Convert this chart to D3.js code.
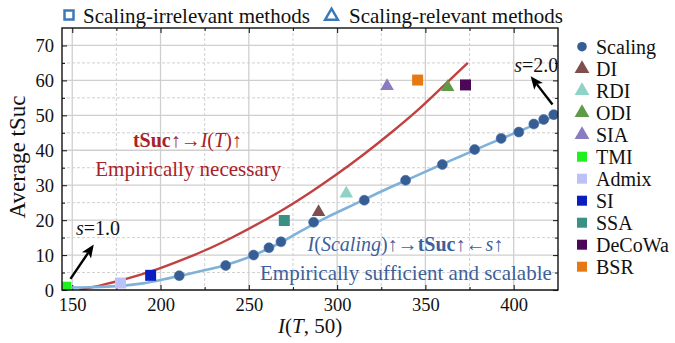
<!DOCTYPE html>
<html>
<head>
<meta charset="utf-8">
<script src="https://cdn.jsdelivr.net/npm/d3@7"></script>
<style>
  body { margin: 0; background: #fff; }
  svg text { font-family: "Liberation Serif", "DejaVu Serif", serif !important; }
</style>
</head>
<body>
<div id="chart"></div>
<script>
// scaling runs
var scalingX = [210.6, 236.9, 252.7, 261.4, 268.2, 286.7, 315.4, 338.8, 359.6, 377.9, 392.9, 402.9, 411.4, 417.0, 422.7];
var scalingY = [4.1, 7.0, 10.0, 12.1, 13.8, 19.4, 25.7, 31.4, 35.9, 40.2, 43.4, 45.2, 47.5, 48.8, 50.2];

// other attack methods
var methodNames = ["DI", "RDI", "ODI", "SIA", "TMI", "Admix", "SI", "SSA", "DeCoWa", "BSR"];
var methodX = [289.5, 305.2, 362.6, 328.3, 146.3, 177.3, 194.4, 270.1, 372.7, 345.6];
var methodY = [22.3, 27.6, 58.1, 58.4, 0.8, 2.0, 4.2, 19.9, 58.7, 60.1];
var relevantMethods = ["DI", "RDI", "ODI", "SIA"];

// fitted curve through the scaling points
var fitX = [145, 160, 175, 190, 205, 220, 235, 250, 265, 280, 295, 310, 325, 340, 355, 370, 385, 400, 415, 426];
var fitY = [0.7, 0.8, 1.1, 1.9, 3.4, 5.1, 6.9, 9.4, 12.8, 17.0, 21.0, 24.6, 28.2, 31.6, 35.0, 38.3, 41.6, 44.8, 48.0, 50.5];

// "empirically necessary" bound
var boundX = [154, 165, 180, 195, 210, 225, 240, 255, 270, 285, 300, 315, 330, 345, 360, 374];
var boundY = [0, 1.2, 3.1, 5.4, 8.2, 11.3, 14.9, 18.9, 23.2, 28.0, 33.2, 38.8, 44.8, 51.2, 58.3, 65.0];

var xTicks = [150, 200, 250, 300, 350, 400];
var xMinor = [175, 225, 275, 325, 375];
var yTicks = [0, 10, 20, 30, 40, 50, 60, 70];
var yMinor = [5, 15, 25, 35, 45, 55, 65];

var colors = {
  Scaling: "#365d94", DI: "#7f4e4e", RDI: "#8fd3c6", ODI: "#5f9a49", SIA: "#8b7cc2",
  TMI: "#1ff01f", Admix: "#bdc1f9", SI: "#0a1ebf", SSA: "#3a9082", DeCoWa: "#4b0857", BSR: "#e57a12"
};

var width = 675, height = 343;
var margin = {top: 28, right: 117, bottom: 53, left: 62};
var w = width - margin.left - margin.right,
    h = height - margin.top - margin.bottom;

var svg = d3.select("#chart").append("svg")
  .attr("width", width)
  .attr("height", height);

var x = d3.scaleLinear().domain([144.2, 425.1]).range([0, w]);
var y = d3.scaleLinear().domain([0, 75]).range([h, 0]);

svg.append("defs").append("clipPath").attr("id", "clip")
  .append("rect").attr("width", w).attr("height", h);

var g = svg.append("g").attr("transform", "translate(" + margin.left + "," + margin.top + ")");

// grid
var grid = g.append("g");
grid.selectAll(".xmin").data(xMinor).enter().append("line")
  .attr("x1", x).attr("x2", x).attr("y1", 0).attr("y2", h)
  .attr("stroke", "#c4c4c4").attr("stroke-width", 0.8).attr("stroke-dasharray", "3,2");
grid.selectAll(".ymin").data(yMinor).enter().append("line")
  .attr("y1", y).attr("y2", y).attr("x1", 0).attr("x2", w)
  .attr("stroke", "#c4c4c4").attr("stroke-width", 0.8).attr("stroke-dasharray", "3,2");
grid.selectAll(".xmaj").data(xTicks).enter().append("line")
  .attr("x1", x).attr("x2", x).attr("y1", 0).attr("y2", h)
  .attr("stroke", "#cfcfcf").attr("stroke-width", 1.3);
grid.selectAll(".ymaj").data(yTicks).enter().append("line")
  .attr("y1", y).attr("y2", y).attr("x1", 0).attr("x2", w)
  .attr("stroke", "#cfcfcf").attr("stroke-width", 1.3);

// ticks inward on all sides
function tickAxis(axis, minor) {
  return axis.tickSizeInner(minor ? -3 : -5).tickSizeOuter(0);
}
var axes = g.append("g");
var bottom = axes.append("g").attr("transform", "translate(0," + h + ")")
  .call(tickAxis(d3.axisBottom(x).tickValues(xTicks).tickFormat(d3.format("d"))));
axes.append("g").attr("transform", "translate(0," + h + ")")
  .call(tickAxis(d3.axisBottom(x).tickValues(xMinor).tickFormat(""), true));
axes.append("g").call(tickAxis(d3.axisTop(x).tickValues(xTicks).tickFormat("")));
axes.append("g").call(tickAxis(d3.axisTop(x).tickValues(xMinor).tickFormat(""), true));
var left = axes.append("g")
  .call(tickAxis(d3.axisLeft(y).tickValues(yTicks).tickFormat(d3.format("d"))));
axes.append("g").call(tickAxis(d3.axisLeft(y).tickValues(yMinor).tickFormat(""), true));
axes.append("g").attr("transform", "translate(" + w + ",0)")
  .call(tickAxis(d3.axisRight(y).tickValues(yTicks).tickFormat("")));
axes.append("g").attr("transform", "translate(" + w + ",0)")
  .call(tickAxis(d3.axisRight(y).tickValues(yMinor).tickFormat(""), true));
axes.selectAll(".domain").remove();
axes.selectAll(".tick line").attr("stroke", "#222").attr("stroke-width", 1.1);
bottom.selectAll("text").attr("font-size", 18.5).attr("fill", "#111").attr("dy", null).attr("y", 21);
left.selectAll("text").attr("font-size", 18.5).attr("fill", "#111").attr("x", -8).attr("dy", "0.34em");

// curves
var plot = g.append("g").attr("clip-path", "url(#clip)");
var line = d3.line().curve(d3.curveCatmullRom.alpha(0.5));
plot.append("path")
  .attr("d", line(boundX.map(function(d, i){ return [x(d), y(boundY[i])]; })))
  .attr("fill", "none").attr("stroke", "#c0413f").attr("stroke-width", 2.4);
plot.append("path")
  .attr("d", line(fitX.map(function(d, i){ return [x(d), y(fitY[i])]; })))
  .attr("fill", "none").attr("stroke", "#7fb1d9").attr("stroke-width", 2.6);

// method markers
var square = d3.symbol().type(d3.symbolSquare).size(121);
var tri = d3.symbol().type(d3.symbolTriangle).size(80);
plot.selectAll(".method").data(methodNames).enter().append("path")
  .attr("transform", function(d, i){ return "translate(" + x(methodX[i]) + "," + y(methodY[i]) + ")"; })
  .attr("d", function(d){ return relevantMethods.indexOf(d) >= 0 ? tri() : square(); })
  .attr("fill", function(d){ return colors[d]; });

plot.selectAll(".scaling").data(scalingX).enter().append("circle")
  .attr("cx", function(d){ return x(d); })
  .attr("cy", function(d, i){ return y(scalingY[i]); })
  .attr("r", 5)
  .attr("fill", colors.Scaling)
  .attr("stroke", "#4a72a8").attr("stroke-width", 0.6);

// frame
g.append("rect").attr("width", w).attr("height", h)
  .attr("fill", "none").attr("stroke", "#111").attr("stroke-width", 1.4);

// annotations
var red = "#a82228", blue = "#3d5f9c";
var ann1 = g.append("text").attr("x", x(215.2)).attr("y", y(40.8))
  .attr("text-anchor", "middle").attr("font-size", 20).attr("fill", red);
ann1.append("tspan").attr("font-weight", "bold").text("tSuc");
ann1.append("tspan").text("↑→");
ann1.append("tspan").attr("font-style", "italic").text("I");
ann1.append("tspan").text("(");
ann1.append("tspan").attr("font-style", "italic").text("T");
ann1.append("tspan").text(")↑");
g.append("text").attr("x", x(215.7)).attr("y", y(32.5))
  .attr("text-anchor", "middle").attr("font-size", 21).attr("fill", red)
  .text("Empirically necessary");

var ann2 = g.append("text").attr("x", x(283.3)).attr("y", y(11.3))
  .attr("font-size", 20).attr("fill", blue);
ann2.append("tspan").attr("font-style", "italic").text("I");
ann2.append("tspan").text("(");
ann2.append("tspan").attr("font-style", "italic").text("Scaling");
ann2.append("tspan").text(")↑→");
ann2.append("tspan").attr("font-weight", "bold").text("tSuc");
ann2.append("tspan").text("↑←");
ann2.append("tspan").attr("font-style", "italic").text("s");
ann2.append("tspan").text("↑");
g.append("text").attr("x", x(421.6)).attr("y", y(2.95))
  .attr("text-anchor", "end").attr("font-size", 21).attr("fill", blue)
  .text("Empirically sufficient and scalable");

var s1 = g.append("text").attr("x", x(152.1)).attr("y", y(15.8)).attr("font-size", 20).attr("fill", "#111");
s1.append("tspan").attr("font-style", "italic").text("s");
s1.append("tspan").text("=1.0");
var s2 = g.append("text").attr("x", x(425.3)).attr("y", y(62.3)).attr("text-anchor", "end")
  .attr("font-size", 20).attr("fill", "#111");
s2.append("tspan").attr("font-style", "italic").text("s");
s2.append("tspan").text("=2.0");

// arrows: shaft plus a filled head
function arrow(x0, y0, x1, y1) {
  var ax = x(x0), ay = y(y0), bx = x(x1), by = y(y1);
  var ang = Math.atan2(by - ay, bx - ax);
  var len = 13, half = 5.5;
  var cx = bx - len * Math.cos(ang), cy = by - len * Math.sin(ang);
  var px = -Math.sin(ang), py = Math.cos(ang);
  g.append("line")
    .attr("x1", ax).attr("y1", ay).attr("x2", cx + 3 * Math.cos(ang)).attr("y2", cy + 3 * Math.sin(ang))
    .attr("stroke", "#000").attr("stroke-width", 2.4);
  g.append("path")
    .attr("d", "M" + bx + "," + by +
      "L" + (cx + half * px) + "," + (cy + half * py) +
      "L" + (cx + 3 * Math.cos(ang)) + "," + (cy + 3 * Math.sin(ang)) +
      "L" + (cx - half * px) + "," + (cy - half * py) + "Z")
    .attr("fill", "#000");
}
arrow(149.0, 3.2, 162.2, 13.0);
arrow(422.0, 53.1, 409.6, 61.2);

// axis titles
var xl = svg.append("text").attr("x", margin.left + x(284.7)).attr("y", 333)
  .attr("text-anchor", "middle").attr("font-size", 21).attr("fill", "#111");
xl.append("tspan").attr("font-style", "italic").text("I");
xl.append("tspan").text("(");
xl.append("tspan").attr("font-style", "italic").text("T");
xl.append("tspan").text(", 50)");
svg.append("text")
  .attr("transform", "translate(25," + (margin.top + h / 2 - 2) + ") rotate(-90)")
  .attr("text-anchor", "middle").attr("font-size", 23).attr("fill", "#111")
  .text("Average tSuc");

// top legend
svg.append("rect").attr("x", 64.5).attr("y", 10.5).attr("width", 9).attr("height", 9)
  .attr("fill", "none").attr("stroke", "#3b78b8").attr("stroke-width", 2.5);
svg.append("text").attr("x", 83).attr("y", 22.5).attr("font-size", 21).attr("fill", "#111")
  .text("Scaling-irrelevant methods");
svg.append("path").attr("transform", "translate(331.5,16)")
  .attr("d", d3.symbol().type(d3.symbolTriangle).size(70)())
  .attr("fill", "none").attr("stroke", "#3b78b8").attr("stroke-width", 2.5);
svg.append("text").attr("x", 349).attr("y", 22.5).attr("font-size", 21).attr("fill", "#111")
  .text("Scaling-relevant methods");

// right legend
var legendNames = ["Scaling"].concat(methodNames);
var lg = svg.append("g").attr("transform", "translate(582,46.7)");
var row = lg.selectAll(".row").data(legendNames).enter().append("g")
  .attr("transform", function(d, i){ return "translate(0," + (i * 22) + ")"; });
row.append("path")
  .attr("d", function(d){
    if (d === "Scaling") return d3.symbol().type(d3.symbolCircle).size(72)();
    if (relevantMethods.indexOf(d) >= 0) return d3.symbol().type(d3.symbolTriangle).size(95)();
    return d3.symbol().type(d3.symbolSquare).size(100)();
  })
  .attr("fill", function(d){ return colors[d]; });
row.append("text").attr("x", 14).attr("y", 7).attr("font-size", 20).attr("fill", "#111")
  .text(function(d){ return d; });
</script>
</body>
</html>
